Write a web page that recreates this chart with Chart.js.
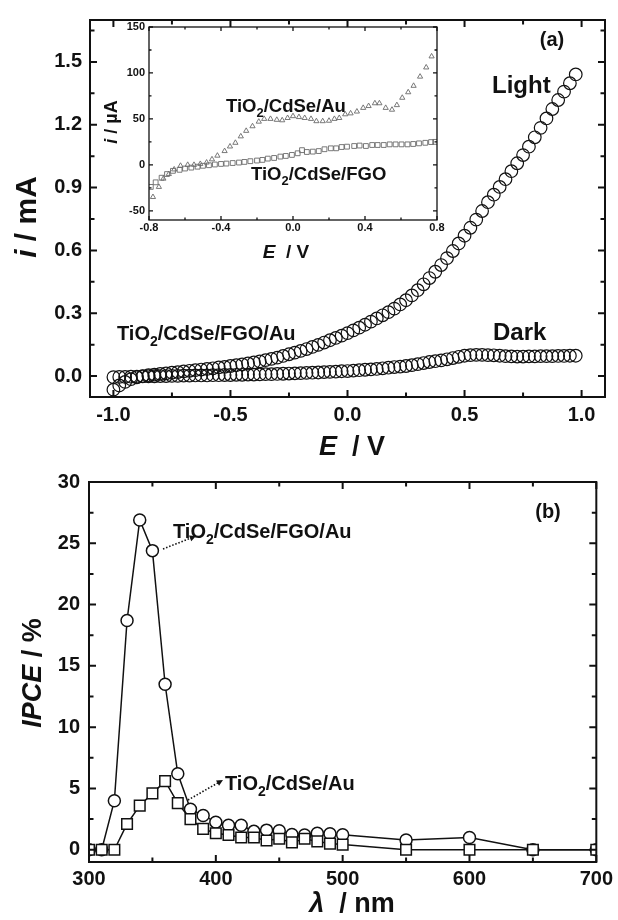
<!DOCTYPE html>
<html>
<head>
<meta charset="utf-8">
<script src="https://cdn.jsdelivr.net/npm/chart.js@4.4.0/dist/chart.umd.min.js"></script>
<style>
  body { margin: 0; background: #fff; }
  #wrap { position: relative; width: 618px; height: 920px; }
  canvas { position: absolute; }
</style>
</head>
<body>
<div id="wrap">
  <canvas id="chartA" width="618" height="460" style="left:0;top:0"></canvas>
  <canvas id="inset" width="618" height="460" style="left:0;top:0"></canvas>
  <canvas id="chartB" width="618" height="460" style="left:0;top:460px"></canvas>
</div>
<script>
// (a) current vs potential, TiO2/CdSe/FGO/Au, 25 mV steps
const potential = [
  -1.000, -0.975, -0.950, -0.925, -0.900, -0.875, -0.850, -0.825, -0.800, -0.775,
  -0.750, -0.725, -0.700, -0.675, -0.650, -0.625, -0.600, -0.575, -0.550, -0.525,
  -0.500, -0.475, -0.450, -0.425, -0.400, -0.375, -0.350, -0.325, -0.300, -0.275,
  -0.250, -0.225, -0.200, -0.175, -0.150, -0.125, -0.100, -0.075, -0.050, -0.025,
  0.000, 0.025, 0.050, 0.075, 0.100, 0.125, 0.150, 0.175, 0.200, 0.225,
  0.250, 0.275, 0.300, 0.325, 0.350, 0.375, 0.400, 0.425, 0.450, 0.475,
  0.500, 0.525, 0.550, 0.575, 0.600, 0.625, 0.650, 0.675, 0.700, 0.725,
  0.750, 0.775, 0.800, 0.825, 0.850, 0.875, 0.900, 0.925, 0.950, 0.975
];
const lightCurrent = [
  -0.065, -0.045, -0.028, -0.015, -0.006, 0.000, 0.004, 0.007, 0.010, 0.013,
  0.016, 0.019, 0.022, 0.025, 0.028, 0.031, 0.034, 0.037, 0.041, 0.044,
  0.048, 0.052, 0.056, 0.060, 0.065, 0.070, 0.076, 0.082, 0.088, 0.096,
  0.104, 0.112, 0.120, 0.129, 0.139, 0.149, 0.160, 0.171, 0.182, 0.193,
  0.205, 0.218, 0.231, 0.245, 0.260, 0.275, 0.290, 0.305, 0.322, 0.342,
  0.362, 0.385, 0.410, 0.438, 0.468, 0.498, 0.530, 0.563, 0.597, 0.633,
  0.670, 0.708, 0.747, 0.788, 0.830, 0.866, 0.903, 0.940, 0.978, 1.016,
  1.055, 1.095, 1.140, 1.185, 1.230, 1.275, 1.318, 1.358, 1.398, 1.440
];
const darkCurrent = [
  -0.005, -0.004, -0.004, -0.003, -0.003, -0.002, -0.001, -0.001, 0.000, 0.000,
  0.001, 0.001, 0.002, 0.002, 0.003, 0.003, 0.003, 0.004, 0.004, 0.005,
  0.005, 0.006, 0.006, 0.007, 0.007, 0.008, 0.009, 0.009, 0.010, 0.011,
  0.012, 0.013, 0.014, 0.015, 0.016, 0.017, 0.019, 0.020, 0.021, 0.023,
  0.024, 0.026, 0.028, 0.030, 0.032, 0.034, 0.037, 0.040, 0.043, 0.045,
  0.048, 0.052, 0.057, 0.062, 0.067, 0.071, 0.075, 0.080, 0.086, 0.092,
  0.097, 0.100, 0.101, 0.101, 0.100, 0.099, 0.097, 0.095, 0.094, 0.093,
  0.093, 0.094, 0.094, 0.095, 0.095, 0.095, 0.096, 0.096, 0.097, 0.097
];

// inset, photocurrent in µA
const auPotential = [
  -0.778, -0.745, -0.72, -0.69, -0.66, -0.625, -0.585, -0.55, -0.515, -0.48,
  -0.45, -0.42, -0.38, -0.35, -0.32, -0.29, -0.26, -0.225, -0.19, -0.16,
  -0.125, -0.09, -0.06, -0.03, 0.0, 0.033, 0.065, 0.10, 0.13, 0.165,
  0.20, 0.23, 0.257, 0.29, 0.32, 0.355, 0.39, 0.42, 0.455, 0.48,
  0.515, 0.55, 0.577, 0.607, 0.64, 0.67, 0.706, 0.74, 0.77
];
const auCurrent = [
  -35, -24, -15, -10, -5, -1, 0, 0, 1, 2.5,
  6, 10, 15, 20, 24, 31, 37, 42, 47, 50,
  50, 49, 48.5, 51, 53, 52, 51, 50, 47.5, 47.5,
  48, 50, 51, 55, 56, 58, 62, 64, 67, 67,
  62, 60, 65, 73, 79, 86, 96, 106, 118
];
const fgoPotential = [
  -0.79, -0.763, -0.73, -0.70, -0.667, -0.63, -0.60, -0.565, -0.53, -0.50,
  -0.467, -0.434, -0.40, -0.37, -0.335, -0.30, -0.27, -0.237, -0.20, -0.17,
  -0.14, -0.105, -0.07, -0.04, -0.006, 0.026, 0.05, 0.077, 0.11, 0.143,
  0.175, 0.21, 0.24, 0.27, 0.30, 0.34, 0.37, 0.405, 0.44, 0.47,
  0.504, 0.537, 0.57, 0.603, 0.636, 0.668, 0.70, 0.735, 0.767, 0.79
];
const fgoCurrent = [
  -24, -19, -14, -10, -6.5, -5.4, -4, -3, -2, -1,
  -0.4, 0.4, 1, 1.4, 2, 2.5, 3.2, 4, 4.7, 5.4,
  6.8, 7.5, 9, 9.7, 10.8, 12.6, 16, 14, 14.4, 15,
  17, 18, 18, 19.4, 19.8, 20.5, 21, 20.5, 21.6, 21.6,
  21.6, 22.3, 22.3, 22.3, 22.3, 22.7, 23.4, 24, 24.8, 25
];

// (b) IPCE spectra
const wavelength = [300, 310, 320, 330, 340, 350, 360, 370, 380, 390, 400, 410, 420, 430, 440, 450, 460, 470, 480, 490, 500, 550, 600, 650, 700];
const ipceFgoAu = [0, 0, 4.0, 18.7, 26.9, 24.4, 13.5, 6.2, 3.3, 2.8, 2.25, 2.0, 2.0, 1.5, 1.6, 1.55, 1.25, 1.2, 1.35, 1.3, 1.22, 0.8, 1.0, 0, 0];
const ipceAu = [0, 0, 0, 2.1, 3.6, 4.6, 5.6, 3.8, 2.5, 1.7, 1.35, 1.2, 1.0, 1.0, 0.75, 0.9, 0.6, 0.9, 0.68, 0.5, 0.42, 0, 0, 0, 0];

// tick values
const ticksAx = [-1.0, -0.5, 0.0, 0.5, 1.0];
const ticksAy = [0.0, 0.3, 0.6, 0.9, 1.2, 1.5];
const ticksInsetX = [-0.8, -0.4, 0.0, 0.4, 0.8];
const ticksInsetY = [-50, 0, 50, 100, 150];
const ticksBx = [300, 400, 500, 600, 700];
const ticksBy = [0, 5, 10, 15, 20, 25, 30];

const FONT = "'Liberation Sans', Arial, sans-serif";
const INK = '#111';
Chart.defaults.font.family = FONT;
Chart.defaults.color = INK;

const pts = (xs, ys) => xs.map((x, i) => ({x: x, y: ys[i]}));

function axis(min, max, values, fmt, size, pad, fit) {
  return {
    type: 'linear', min: min, max: max,
    afterBuildTicks: s => { s.ticks = values.map(v => ({value: v})); },
    afterFit: s => { if (s.isHorizontal()) s.height = fit; else s.width = fit; },
    grid: {display: false, drawTicks: false},
    border: {display: false},
    ticks: {callback: fmt, font: {size: size, weight: 'bold'}, color: INK, padding: pad, maxRotation: 0, autoSkip: false}
  };
}

// box around the plot with inward major/minor ticks on all four sides
const frame = {
  id: 'frame',
  afterDatasetsDraw(chart, args, o) {
    const {ctx, chartArea: a, scales: {x, y}} = chart;
    const marks = s => {
      const out = s.ticks.map(t => [t.value, o.major]);
      const step = s.ticks[1].value - s.ticks[0].value;
      for (let v = s.ticks[0].value - step / 2; v <= s.max + 1e-9; v += step) {
        if (v >= s.min - 1e-9) out.push([v, o.minor]);
      }
      return out;
    };
    ctx.save();
    ctx.strokeStyle = INK;
    ctx.lineWidth = o.width;
    ctx.strokeRect(a.left, a.top, a.right - a.left, a.bottom - a.top);
    ctx.beginPath();
    marks(x).forEach(([v, len]) => {
      const px = x.getPixelForValue(v);
      ctx.moveTo(px, a.bottom); ctx.lineTo(px, a.bottom - len);
      ctx.moveTo(px, a.top); ctx.lineTo(px, a.top + len);
    });
    marks(y).forEach(([v, len]) => {
      const py = y.getPixelForValue(v);
      ctx.moveTo(a.left, py); ctx.lineTo(a.left + len, py);
      ctx.moveTo(a.right, py); ctx.lineTo(a.right - len, py);
    });
    ctx.stroke();
    ctx.restore();
  }
};

// '*' toggles italic, '_' makes the next character a subscript
function parse(str) {
  const out = [];
  let it = false, buf = '';
  const flush = () => { if (buf) out.push({t: buf, it: it, sub: false}); buf = ''; };
  for (let i = 0; i < str.length; i++) {
    const c = str[i];
    if (c === '*') { flush(); it = !it; }
    else if (c === '_') { flush(); out.push({t: str[i + 1], it: it, sub: true}); i++; }
    else buf += c;
  }
  flush();
  return out;
}

function label(ctx, str, x, y, size, align, angle) {
  const parts = parse(str);
  const fontOf = p => (p.it ? 'italic ' : '') + 'bold ' + (p.sub ? size * 0.7 : size) + 'px ' + FONT;
  let w = 0;
  parts.forEach(p => { ctx.font = fontOf(p); p.w = ctx.measureText(p.t).width; w += p.w; });
  ctx.save();
  ctx.translate(x, y);
  ctx.rotate(angle || 0);
  ctx.fillStyle = INK;
  ctx.textBaseline = 'alphabetic';
  let cx = align === 'center' ? -w / 2 : align === 'right' ? -w : 0;
  parts.forEach(p => {
    ctx.font = fontOf(p);
    ctx.fillText(p.t, cx, p.sub ? size * 0.28 : 0);
    cx += p.w;
  });
  ctx.restore();
}

function arrow(ctx, x1, y1, x2, y2) {
  const ang = Math.atan2(y2 - y1, x2 - x1);
  ctx.save();
  ctx.strokeStyle = INK;
  ctx.fillStyle = INK;
  ctx.lineWidth = 1.6;
  ctx.setLineDash([1.5, 1.8]);
  ctx.beginPath();
  ctx.moveTo(x1, y1);
  ctx.lineTo(x2 - 5 * Math.cos(ang), y2 - 5 * Math.sin(ang));
  ctx.stroke();
  ctx.setLineDash([]);
  ctx.beginPath();
  ctx.moveTo(x2, y2);
  ctx.lineTo(x2 - 7 * Math.cos(ang - 0.45), y2 - 7 * Math.sin(ang - 0.45));
  ctx.lineTo(x2 - 7 * Math.cos(ang + 0.45), y2 - 7 * Math.sin(ang + 0.45));
  ctx.closePath();
  ctx.fill();
  ctx.restore();
}

const notesA = {
  id: 'notesA',
  afterDraw(chart) {
    const ctx = chart.ctx;
    label(ctx, '(a)', 552, 46, 20, 'center');
    label(ctx, 'Light', 492, 93, 24);
    label(ctx, 'Dark', 493, 340, 24);
    label(ctx, 'TiO_2/CdSe/FGO/Au', 117, 340, 20);
    label(ctx, '*i* / mA', 36, 217, 30, 'center', -Math.PI / 2);
    label(ctx, '*E*  / V', 352, 455, 27, 'center');
  }
};

const notesInset = {
  id: 'notesInset',
  afterDraw(chart) {
    const ctx = chart.ctx;
    label(ctx, 'TiO_2/CdSe/Au', 226, 112, 18.5);
    label(ctx, 'TiO_2/CdSe/FGO', 251, 180, 18.5);
    label(ctx, '*E*  / V', 286, 258, 19, 'center');
    label(ctx, '*i* / µA', 117, 122, 18, 'center', -Math.PI / 2);
  }
};

const notesB = {
  id: 'notesB',
  afterDraw(chart) {
    const ctx = chart.ctx;
    label(ctx, '(b)', 548, 58, 20, 'center');
    label(ctx, 'TiO_2/CdSe/FGO/Au', 173, 78, 20);
    label(ctx, 'TiO_2/CdSe/Au', 225, 330, 20);
    arrow(ctx, 163, 89, 196, 76);
    arrow(ctx, 188, 340, 223, 320);
    label(ctx, '*IPCE* / %', 41, 213, 27, 'center', -Math.PI / 2);
    label(ctx, '*λ*  / nm', 352, 452, 27, 'center');
  }
};

const base = {
  responsive: false,
  animation: false,
  devicePixelRatio: 1,
  events: []
};

const ring = {pointStyle: 'circle', pointRadius: 6.3, borderColor: INK, borderWidth: 1.2, backgroundColor: 'rgba(0,0,0,0)'};

new Chart(document.getElementById('chartA'), {
  type: 'scatter',
  data: {
    datasets: [
      Object.assign({label: 'Light', data: pts(potential, lightCurrent)}, ring),
      Object.assign({label: 'Dark', data: pts(potential, darkCurrent)}, ring)
    ]
  },
  options: Object.assign({}, base, {
    layout: {padding: {top: 15, right: 13, left: 0, bottom: 0}},
    plugins: {legend: {display: false}, tooltip: {enabled: false}, frame: {width: 2, major: 7, minor: 4.5}},
    scales: {
      x: axis(-1.1, 1.1, ticksAx, v => v.toFixed(1), 20, 6, 63),
      y: axis(-0.1, 1.7, ticksAy, v => v.toFixed(1), 20, 8, 90)
    }
  }),
  plugins: [frame, notesA]
});

new Chart(document.getElementById('inset'), {
  type: 'scatter',
  data: {
    datasets: [
      {label: 'TiO2/CdSe/Au', data: pts(auPotential, auCurrent), pointStyle: 'triangle', pointRadius: 3, borderColor: '#6a6a6a', borderWidth: 0.9, backgroundColor: 'rgba(0,0,0,0)'},
      {label: 'TiO2/CdSe/FGO', data: pts(fgoPotential, fgoCurrent), pointStyle: 'rect', pointRadius: 3.4, borderColor: '#6a6a6a', borderWidth: 0.9, backgroundColor: 'rgba(0,0,0,0)'}
    ]
  },
  options: Object.assign({}, base, {
    layout: {padding: {top: 27, right: 181, left: 0, bottom: 0}},
    plugins: {legend: {display: false}, tooltip: {enabled: false}, frame: {width: 1.3, major: 4, minor: 2.5}},
    scales: {
      x: axis(-0.8, 0.8, ticksInsetX, v => v.toFixed(1), 11, 1.5, 240),
      y: axis(-60, 150, ticksInsetY, v => String(v), 11, 4, 149)
    }
  }),
  plugins: [frame, notesInset]
});

const marker = {borderColor: INK, borderWidth: 1.5, backgroundColor: '#fff', showLine: true, clip: 0};

new Chart(document.getElementById('chartB'), {
  type: 'scatter',
  data: {
    datasets: [
      Object.assign({label: 'TiO2/CdSe/Au', data: pts(wavelength, ipceAu), pointStyle: 'rect', pointRadius: 7.5}, marker),
      Object.assign({label: 'TiO2/CdSe/FGO/Au', data: pts(wavelength, ipceFgoAu), pointStyle: 'circle', pointRadius: 6}, marker)
    ]
  },
  options: Object.assign({}, base, {
    layout: {padding: {top: 22, right: 18, left: 0, bottom: 0}},
    elements: {line: {borderWidth: 2, borderColor: INK, tension: 0}},
    plugins: {legend: {display: false}, tooltip: {enabled: false}, frame: {width: 2, major: 7, minor: 4.5}},
    scales: {
      x: axis(300, 700, ticksBx, v => String(v), 20, 5, 58),
      y: axis(-1, 30, ticksBy, v => String(v), 20, 9, 89)
    }
  }),
  plugins: [frame, notesB]
});
</script>
</body>
</html>
